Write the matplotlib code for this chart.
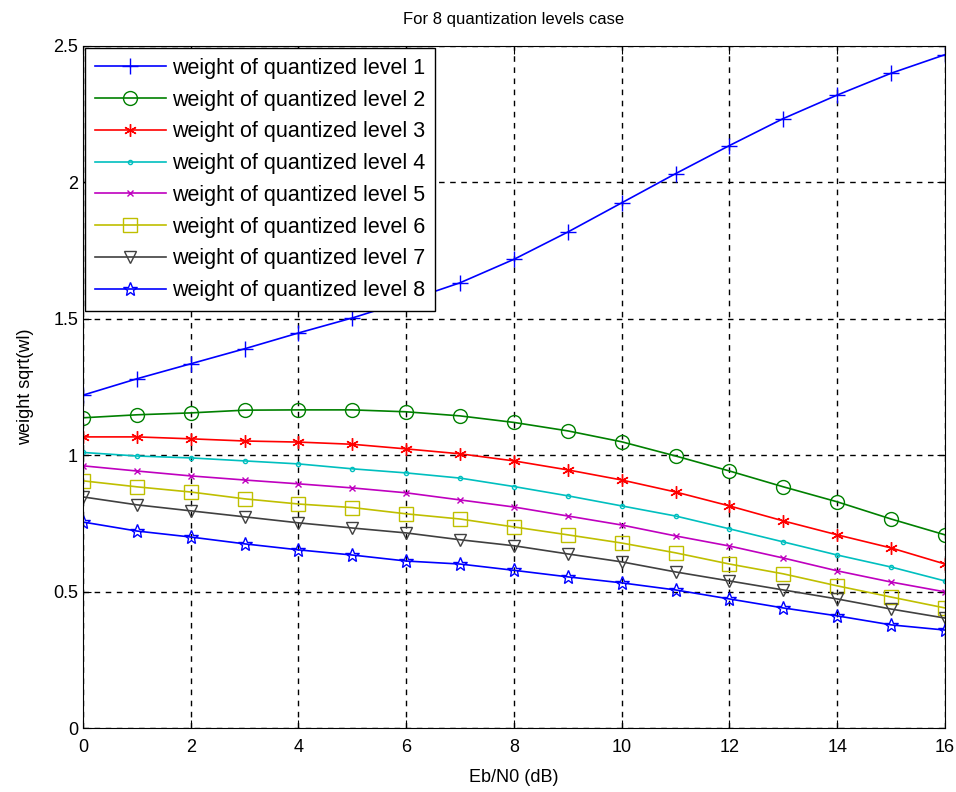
import matplotlib
matplotlib.use('Agg')
import matplotlib.pyplot as plt

plt.rcParams['font.family'] = ['Liberation Sans', 'DejaVu Sans']

# Eb/N0 in dB
ebn0 = list(range(0, 17))

level1 = [1.22, 1.28, 1.335, 1.39, 1.448, 1.503, 1.565, 1.632, 1.718, 1.818, 1.925,
          2.032, 2.135, 2.234, 2.32, 2.40, 2.468]
level2 = [1.137, 1.148, 1.155, 1.165, 1.166, 1.166, 1.159, 1.144, 1.12, 1.089, 1.049,
          0.997, 0.942, 0.884, 0.829, 0.766, 0.708]
level3 = [1.067, 1.067, 1.06, 1.052, 1.048, 1.04, 1.023, 1.005, 0.979, 0.946, 0.909,
          0.865, 0.814, 0.759, 0.708, 0.66, 0.601]
level4 = [1.01, 0.997, 0.99, 0.979, 0.968, 0.95, 0.935, 0.916, 0.885, 0.851, 0.814,
          0.777, 0.73, 0.682, 0.634, 0.59, 0.539]
level5 = [0.961, 0.942, 0.924, 0.909, 0.895, 0.88, 0.862, 0.836, 0.81, 0.777, 0.744,
          0.704, 0.667, 0.623, 0.576, 0.535, 0.499]
level6 = [0.906, 0.884, 0.865, 0.84, 0.821, 0.808, 0.785, 0.766, 0.737, 0.708, 0.678,
          0.642, 0.601, 0.565, 0.521, 0.48, 0.44]
level7 = [0.847, 0.818, 0.796, 0.774, 0.752, 0.733, 0.715, 0.69, 0.668, 0.638, 0.609,
          0.572, 0.539, 0.506, 0.473, 0.436, 0.403]
level8 = [0.755, 0.722, 0.70, 0.675, 0.653, 0.634, 0.612, 0.601, 0.578, 0.554, 0.532,
          0.506, 0.473, 0.44, 0.411, 0.378, 0.359]

series = [level1, level2, level3, level4, level5, level6, level7, level8]
labels = ['weight of quantized level %d' % (i + 1) for i in range(8)]

colors = ['#0000ff', '#008000', '#ff0000', '#00bfbf', '#bf00bf', '#bfbf00', '#404040', '#0000ff']
markers = ['+', 'o', (6, 2, 0), '.', 'x', 's', 'v', '*']
msizes = [11, 10, 9, 6, 5, 10, 9, 10]

fig = plt.figure(figsize=(9.56, 7.92), dpi=100)
ax = fig.add_axes([0.0868, 0.0808, 0.9017, 0.8612])

for vals, lab, c, m, ms in zip(series, labels, colors, markers, msizes):
    ax.plot(ebn0, vals, color=c, marker=m, markersize=ms, markerfacecolor='none',
            markeredgecolor=c, markeredgewidth=1.0, linewidth=1.2, label=lab)

ax.set_xlim(0, 16)
ax.set_ylim(0, 2.5)
ax.set_xticks(range(0, 17, 2))
ax.set_yticks([0, 0.5, 1, 1.5, 2, 2.5])
ax.set_yticklabels(['0', '0.5', '1', '1.5', '2', '2.5'])
ax.tick_params(direction='in', labelsize=13, length=6, top=True, right=True)
ax.tick_params(axis='x', pad=8)
ax.grid(True, color='black', linestyle=(0, (4, 4)), linewidth=1.0)

ax.set_title('For 8 quantization levels case', fontsize=12, pad=16)
ax.set_xlabel('Eb/N0 (dB)', fontsize=13, labelpad=9)
ax.set_ylabel('weight sqrt(wl)', fontsize=13, labelpad=14)

leg = ax.legend(loc='upper left', fontsize=15.5, handlelength=3.3, labelspacing=0.5,
                borderaxespad=0.1, fancybox=False, framealpha=1, edgecolor='black',
                handletextpad=0.3, borderpad=0.45)
leg.get_frame().set_linewidth(1.0)

fig.savefig('out.png', dpi=100)
